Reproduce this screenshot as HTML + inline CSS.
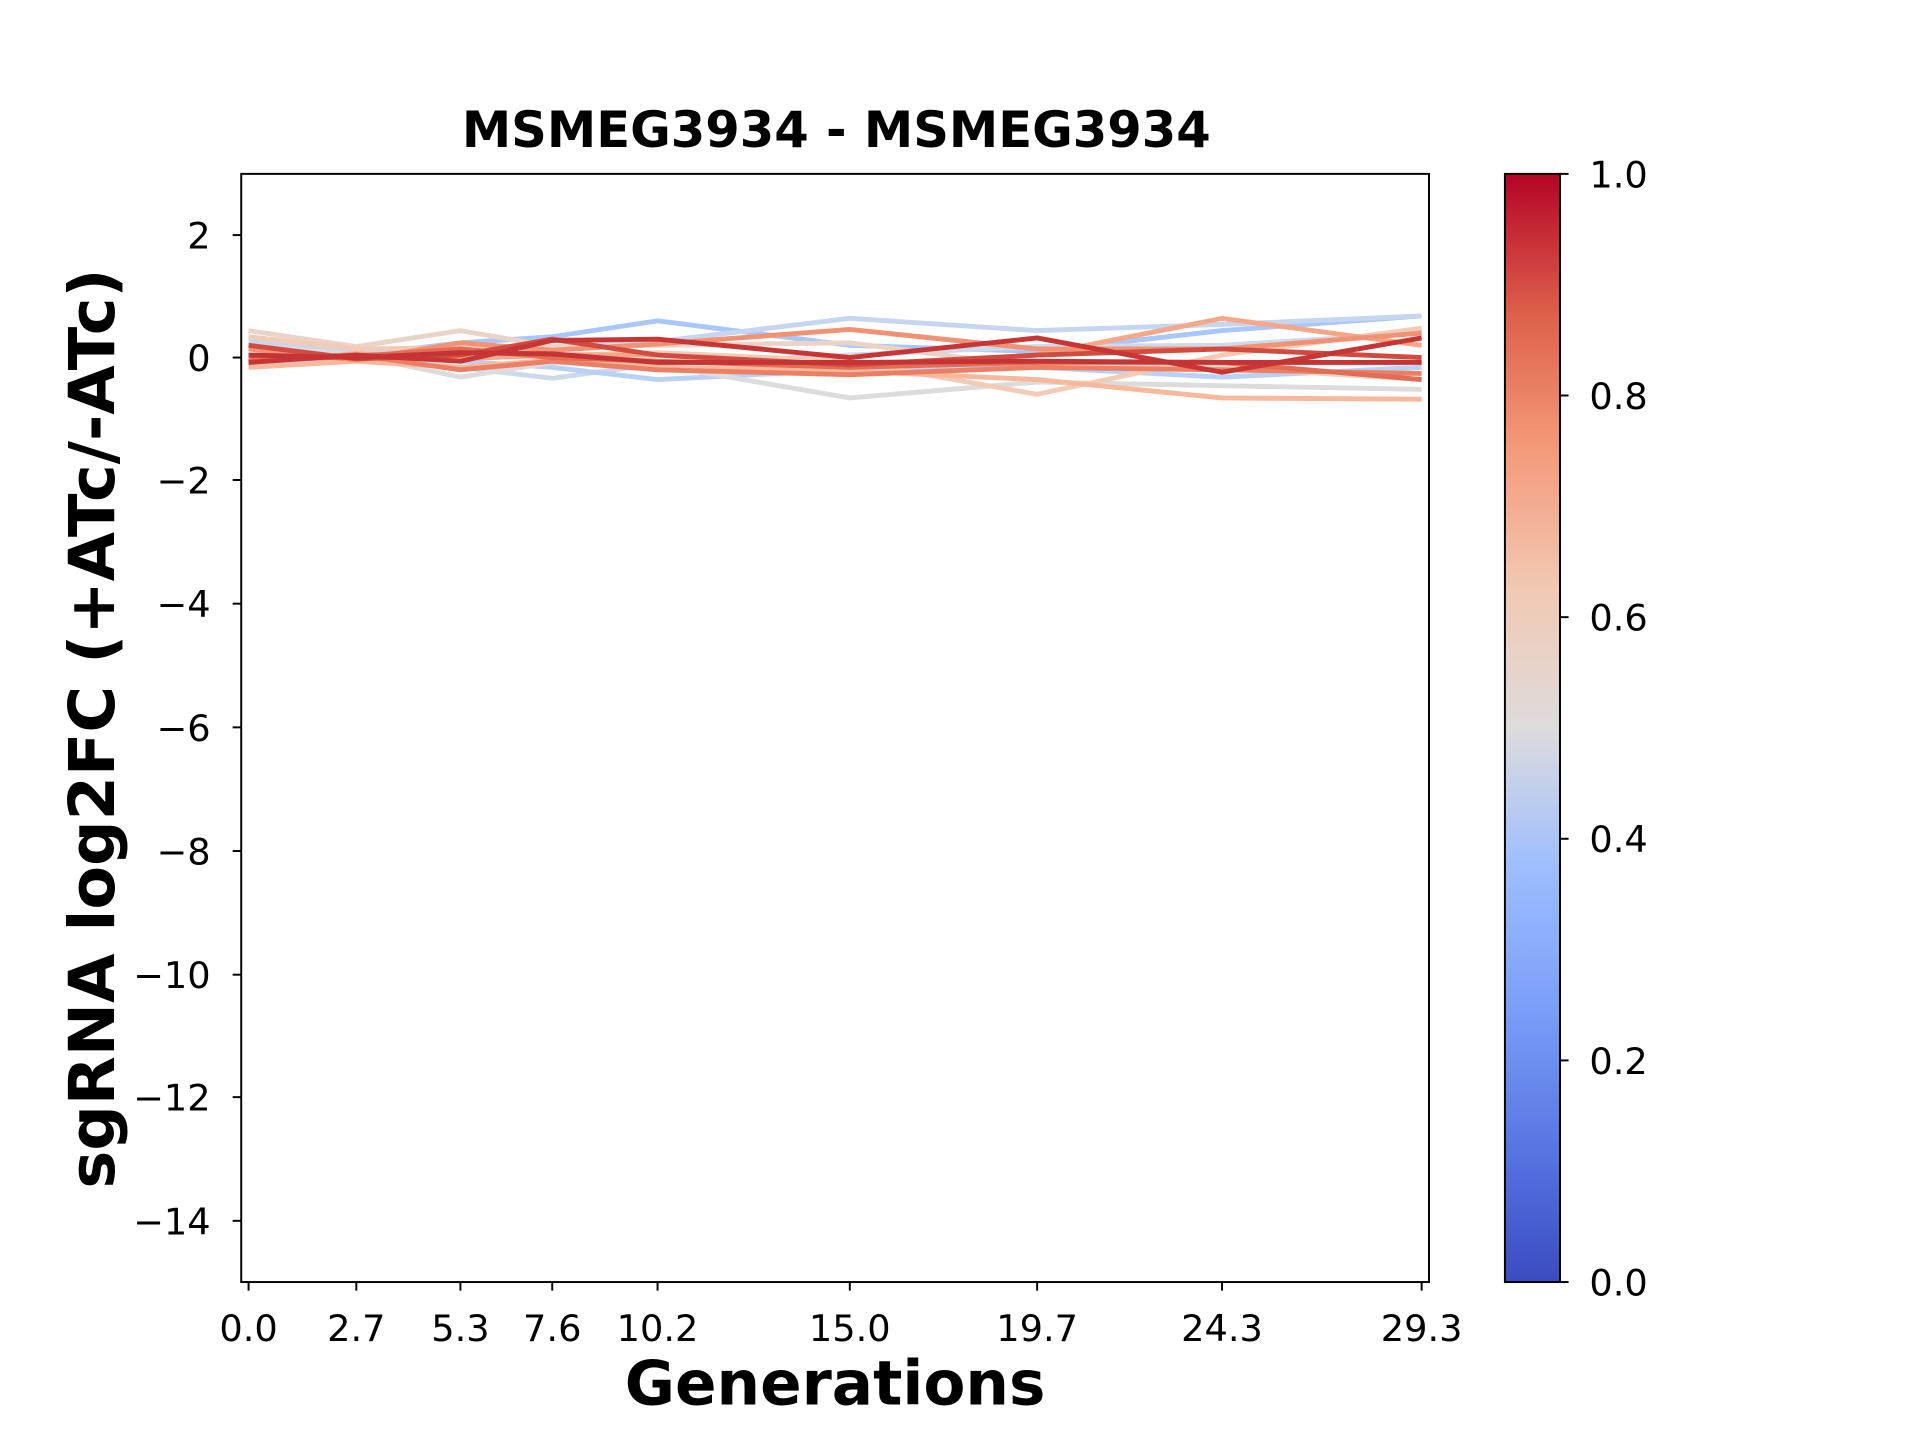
<!DOCTYPE html>
<html><head><meta charset="utf-8"><style>html,body{margin:0;padding:0;background:#fff}svg{display:block}</style></head>
<body>
<svg width="1920" height="1440" viewBox="0 0 1568 1176" preserveAspectRatio="none" xmlns="http://www.w3.org/2000/svg" font-family="DejaVu Sans, Liberation Sans, sans-serif">
<defs>
<linearGradient id="cw" x1="0" y1="1" x2="0" y2="0">
<stop offset="0" stop-color="#3b4cc0"/>
<stop offset="0.125" stop-color="#5977e3"/>
<stop offset="0.25" stop-color="#7b9ff9"/>
<stop offset="0.375" stop-color="#9ebeff"/>
<stop offset="0.5" stop-color="#dddcdc"/>
<stop offset="0.625" stop-color="#f2c9b4"/>
<stop offset="0.75" stop-color="#f49a7b"/>
<stop offset="0.875" stop-color="#dd5f4b"/>
<stop offset="1" stop-color="#b40426"/>
</linearGradient>
<clipPath id="pc"><rect x="197" y="142" width="970" height="905"/></clipPath>
</defs>
<rect width="1568" height="1176" fill="#fff"/>
<text x="683" y="120" text-anchor="middle" font-size="40.5" font-weight="bold">MSMEG3934 - MSMEG3934</text>
<g clip-path="url(#pc)" fill="none" stroke-width="4" stroke-linejoin="round">
<polyline stroke="#aac7fd" points="203,282 291,290 376,280 451,275 537,262 694,282 847,287 998,270 1161,258"/>
<polyline stroke="#c6d6f1" points="203,278 291,287 376,292 451,283 537,279 694,260 847,270 998,265 1161,258"/>
<polyline stroke="#cdd9ec" points="203,298 291,292 376,300 451,309 537,297 694,290 847,283 998,282 1161,272"/>
<polyline stroke="#b9d0f9" points="203,290 291,290 376,295 451,300 537,310 694,302 847,300 998,308 1161,300"/>
<polyline stroke="#dddcdc" points="203,282 291,290 376,308 451,296 537,298 694,325 847,312 998,315 1161,318"/>
<polyline stroke="#ead4c8" points="203,270 291,283 376,270 451,283 537,282 694,280 847,300 998,300 1161,310"/>
<polyline stroke="#f2cbb7" points="203,275 291,285 376,284 451,290 537,288 694,295 847,322 998,290 1161,268"/>
<polyline stroke="#f7b89c" points="203,300 291,295 376,300 451,294 537,300 694,303 847,310 998,325 1161,326"/>
<polyline stroke="#f5a788" points="203,296 291,289 376,293 451,290 537,290 694,300 847,290 998,260 1161,282"/>
<polyline stroke="#f29274" points="203,285 291,294 376,280 451,286 537,281 694,269 847,285 998,285 1161,272"/>
<polyline stroke="#ec7f63" points="203,292 291,290 376,302 451,295 537,302 694,306 847,300 998,302 1161,305"/>
<polyline stroke="#e36c55" points="203,295 291,291 376,285 451,292 537,295 694,300 847,296 998,296 1161,310"/>
<polyline stroke="#d24b40" points="203,282 291,293 376,290 451,277 537,290 694,298 847,290 998,285 1161,292"/>
<polyline stroke="#c73535" points="203,296 291,290 376,295 451,278 537,277 694,292 847,276 998,304 1161,276"/>
<polyline stroke="#c53334" points="203,290 291,292 376,288 451,289 537,296 694,296 847,295 998,296 1161,296"/>
</g>
<rect x="197" y="142" width="970" height="905" fill="none" stroke="#000" stroke-width="1.6"/>
<g stroke="#000" stroke-width="1.6">
<line x1="190" x2="197" y1="192" y2="192"/><line x1="190" x2="197" y1="292" y2="292"/><line x1="190" x2="197" y1="392" y2="392"/><line x1="190" x2="197" y1="493" y2="493"/><line x1="190" x2="197" y1="594" y2="594"/><line x1="190" x2="197" y1="695" y2="695"/><line x1="190" x2="197" y1="796" y2="796"/><line x1="190" x2="197" y1="896" y2="896"/><line x1="190" x2="197" y1="997" y2="997"/>
<line x1="203" x2="203" y1="1047" y2="1054"/><line x1="291" x2="291" y1="1047" y2="1054"/><line x1="376" x2="376" y1="1047" y2="1054"/><line x1="451" x2="451" y1="1047" y2="1054"/><line x1="537" x2="537" y1="1047" y2="1054"/><line x1="694" x2="694" y1="1047" y2="1054"/><line x1="847" x2="847" y1="1047" y2="1054"/><line x1="998" x2="998" y1="1047" y2="1054"/><line x1="1161" x2="1161" y1="1047" y2="1054"/>
</g>
<g font-size="30" text-anchor="end">
<text x="172" y="203">2</text><text x="172" y="303">0</text><text x="172" y="403">−2</text><text x="172" y="504">−4</text><text x="172" y="605">−6</text><text x="172" y="706">−8</text><text x="172" y="807">−10</text><text x="172" y="907">−12</text><text x="172" y="1008">−14</text>
</g>
<g font-size="30" text-anchor="middle">
<text x="203" y="1095">0.0</text><text x="291" y="1095">2.7</text><text x="376" y="1095">5.3</text><text x="451" y="1095">7.6</text><text x="537" y="1095">10.2</text><text x="694" y="1095">15.0</text><text x="847" y="1095">19.7</text><text x="998" y="1095">24.3</text><text x="1161" y="1095">29.3</text>
</g>
<text x="682" y="1147" text-anchor="middle" font-size="50" font-weight="bold">Generations</text>
<text transform="translate(93,595) rotate(-90)" text-anchor="middle" font-size="52" font-weight="bold">sgRNA log2FC (+ATc/-ATc)</text>
<rect x="1229" y="142" width="45" height="905" fill="url(#cw)" stroke="#000" stroke-width="1.6"/>
<g stroke="#000" stroke-width="1.6">
<line x1="1274" x2="1281" y1="142" y2="142"/><line x1="1274" x2="1281" y1="323" y2="323"/><line x1="1274" x2="1281" y1="504" y2="504"/><line x1="1274" x2="1281" y1="685" y2="685"/><line x1="1274" x2="1281" y1="866" y2="866"/><line x1="1274" x2="1281" y1="1047" y2="1047"/>
</g>
<g font-size="30">
<text x="1298" y="153">1.0</text><text x="1298" y="334">0.8</text><text x="1298" y="515">0.6</text><text x="1298" y="696">0.4</text><text x="1298" y="877">0.2</text><text x="1298" y="1058">0.0</text>
</g>
</svg>
</body></html>
